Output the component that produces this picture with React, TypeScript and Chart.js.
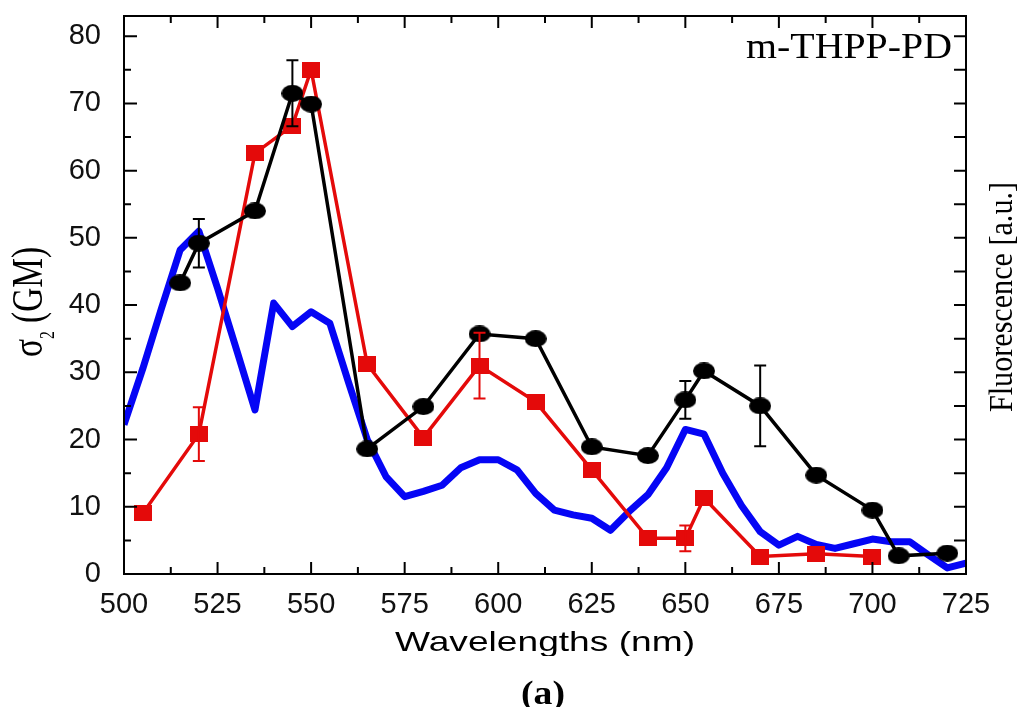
import React, { useEffect, useRef } from 'react';
import { Chart, registerables } from 'chart.js';
Chart.register(...registerables);

// ---- data ----
const blackX = [515, 520, 535, 545, 550, 565, 580, 595, 610, 625, 640, 650, 655, 670, 685, 700, 707, 720];
const blackY = [43.3, 49.2, 54.0, 71.5, 69.9, 18.6, 24.9, 35.7, 35.0, 18.9, 17.6, 25.9, 30.2, 25.0, 14.7, 9.5, 2.7, 3.1];
const blackErr = [null, 3.6, null, 4.9, null, null, null, null, null, null, null, 2.8, null, 6.0, null, null, null, null];

const redX = [505, 520, 535, 545, 550, 565, 580, 595, 610, 625, 640, 650, 655, 670, 685, 700];
const redY = [9.0, 20.8, 62.6, 66.7, 75.0, 31.2, 20.3, 31.0, 25.6, 15.5, 5.3, 5.3, 11.3, 2.6, 3.0, 2.6];
const redErr = [null, 4.0, null, null, null, null, null, 4.9, null, null, null, 1.9, null, null, null, null];

const blueX = [500, 505, 510, 515, 520, 525, 530, 535, 540, 545, 550, 555, 560, 565, 570, 575, 580, 585, 590, 595,
  600, 605, 610, 615, 620, 625, 630, 635, 640, 645, 650, 655, 660, 665, 670, 675, 680, 685, 690, 695,
  700, 705, 710, 715, 720, 725];
const blueY = [22.2, 30.5, 39.5, 48.2, 51.0, 42.5, 33.5, 24.4, 40.3, 36.8, 39.0, 37.3, 28.5, 20.0, 14.5, 11.5, 12.3, 13.2, 15.8, 17.0,
  17.0, 15.5, 12.0, 9.5, 8.8, 8.3, 6.5, 9.3, 11.8, 15.8, 21.5, 20.8, 15.0, 10.2, 6.3, 4.3, 5.6, 4.4, 3.8, 4.5,
  5.2, 4.8, 4.8, 2.8, 0.9, 1.6];

const xTickValues = [500, 525, 550, 575, 600, 625, 650, 675, 700, 725];
const yTickValues = [0, 10, 20, 30, 40, 50, 60, 70, 80];
const rightTickValues = [0, 5, 10, 15, 20, 25, 30, 35, 40, 45, 50, 55, 60, 65, 70, 75, 80];
const X_MIN = 500, X_MAX = 725, Y_MIN = 0, Y_MAX = 83;

const TITLE_X = 'Wavelengths (nm)';
const TITLE_Y_SYMBOL = 'σ';
const TITLE_Y_SUB = '2';
const TITLE_Y_REST = ' (GM)';
const TITLE_Y2 = 'Fluorescence [a.u.]';
const SAMPLE_LABEL = 'm-THPP-PD';
const CAPTION = '(a)';

const W = 1024, H = 707;
const RED = '#e40a0a';
const BLUE = '#0505f5';

function ellipseImg(w: number, h: number, color: string) {
  const c = document.createElement('canvas');
  c.width = w; c.height = h;
  const g = c.getContext('2d')!;
  g.fillStyle = color;
  g.beginPath();
  g.ellipse(w / 2, h / 2, w / 2, h / 2, 0, 0, Math.PI * 2);
  g.fill();
  return c;
}
function rectImg(w: number, h: number, color: string) {
  const c = document.createElement('canvas');
  c.width = w; c.height = h;
  const g = c.getContext('2d')!;
  g.fillStyle = color;
  g.fillRect(0, 0, w, h);
  return c;
}

function stretchText(ctx: CanvasRenderingContext2D, text: string, x: number, y: number, font: string,
  targetW: number, sy: number, rot: number) {
  ctx.save();
  ctx.font = font;
  const w = ctx.measureText(text).width;
  ctx.translate(x, y);
  ctx.rotate(rot);
  ctx.scale(targetW / w, sy);
  ctx.textAlign = 'center';
  ctx.textBaseline = 'alphabetic';
  ctx.fillStyle = '#000';
  ctx.fillText(text, 0, 0);
  ctx.restore();
}

const decoPlugin = {
  id: 'deco',
  afterDatasetsDraw(chart: any) {
    const ctx: CanvasRenderingContext2D = chart.ctx;
    const xs = chart.scales.x, ys = chart.scales.y;
    const drawErr = (px: number[], py: number[], pe: (number | null)[], color: string, cap: number) => {
      ctx.save();
      ctx.strokeStyle = color;
      ctx.lineWidth = 2;
      px.forEach((xv, i) => {
        const e = pe[i];
        if (e == null) return;
        const X = xs.getPixelForValue(xv);
        const y1 = ys.getPixelForValue(py[i] + e);
        const y2 = ys.getPixelForValue(py[i] - e);
        ctx.beginPath();
        ctx.moveTo(X, y1); ctx.lineTo(X, y2);
        ctx.moveTo(X - cap, y1); ctx.lineTo(X + cap, y1);
        ctx.moveTo(X - cap, y2); ctx.lineTo(X + cap, y2);
        ctx.stroke();
      });
      ctx.restore();
    };
    drawErr(redX, redY, redErr, RED, 6);
    drawErr(blackX, blackY, blackErr, '#000', 6);
  },
  afterDraw(chart: any) {
    const ctx: CanvasRenderingContext2D = chart.ctx;
    const a = chart.chartArea;
    const xs = chart.scales.x, ys = chart.scales.y;
    ctx.save();
    ctx.strokeStyle = '#000';
    ctx.lineWidth = 2;
    ctx.strokeRect(a.left, a.top, a.right - a.left, a.bottom - a.top);
    ctx.beginPath();
    const mids = (arr: number[]) => arr.slice(1).map((v, i) => (v + arr[i]) / 2);
    xTickValues.forEach(v => {
      const X = xs.getPixelForValue(v);
      ctx.moveTo(X, a.bottom); ctx.lineTo(X, a.bottom - 12);
      ctx.moveTo(X, a.top); ctx.lineTo(X, a.top + 12);
    });
    mids(xTickValues).forEach(v => {
      const X = xs.getPixelForValue(v);
      ctx.moveTo(X, a.bottom); ctx.lineTo(X, a.bottom - 7);
      ctx.moveTo(X, a.top); ctx.lineTo(X, a.top + 7);
    });
    yTickValues.forEach(v => {
      const Y = ys.getPixelForValue(v);
      ctx.moveTo(a.left, Y); ctx.lineTo(a.left + 13, Y);
    });
    mids(yTickValues).forEach(v => {
      const Y = ys.getPixelForValue(v);
      ctx.moveTo(a.left, Y); ctx.lineTo(a.left + 7, Y);
    });
    const y2 = chart.scales.y2;
    rightTickValues.forEach(v => {
      const Y = y2.getPixelForValue(v);
      ctx.moveTo(a.right, Y); ctx.lineTo(a.right - 12, Y);
    });
    ctx.stroke();
    ctx.restore();

    // sample label
    stretchText(ctx, SAMPLE_LABEL, 849, 58, '35px "Liberation Serif"', 206, 1, 0);
    // x title (clipped at the bottom like the reference)
    ctx.save();
    ctx.beginPath();
    ctx.rect(0, 0, W, 656);
    ctx.clip();
    stretchText(ctx, TITLE_X, 545, 651, '28px "Liberation Sans"', 300, 1, 0);
    ctx.restore();
    // caption
    stretchText(ctx, CAPTION, 543, 704, 'bold 34px "Liberation Serif"', 44, 1, 0);
    // right title
    stretchText(ctx, TITLE_Y2, 1012, 297, '28px "Liberation Serif"', 230, 1.17, -Math.PI / 2);
    // left title with subscript
    ctx.save();
    const mainFont = '30px "Liberation Serif"';
    const subFont = '14px "Liberation Serif"';
    ctx.font = mainFont;
    const w1 = ctx.measureText(TITLE_Y_SYMBOL).width;
    const w3 = ctx.measureText(TITLE_Y_REST).width;
    ctx.font = subFont;
    const w2 = ctx.measureText(TITLE_Y_SUB).width;
    const total = w1 + w2 + w3;
    const sx = 110 / total;
    ctx.translate(42, 302);
    ctx.rotate(-Math.PI / 2);
    ctx.scale(sx, 1.45);
    ctx.fillStyle = '#000';
    ctx.textBaseline = 'alphabetic';
    ctx.textAlign = 'left';
    let cx = -total / 2;
    ctx.font = mainFont;
    ctx.fillText(TITLE_Y_SYMBOL, cx, 0);
    cx += w1;
    ctx.font = subFont;
    ctx.fillText(TITLE_Y_SUB, cx, 8);
    cx += w2;
    ctx.font = mainFont;
    ctx.fillText(TITLE_Y_REST, cx, 0);
    ctx.restore();
  },
};

export default function App() {
  const ref = useRef<HTMLCanvasElement>(null);
  useEffect(() => {
    const blackMarker = ellipseImg(22, 17, '#000');
    const redMarker = rectImg(18, 16, RED);
    const tickFont = { family: '"Liberation Sans", Arial, sans-serif', size: 29, lineHeight: 1 };
    const noPad = (s: any) => { s.paddingTop = 0; s.paddingBottom = 0; s.paddingLeft = 0; s.paddingRight = 0; };
    const chart = new Chart(ref.current!, {
      type: 'line',
      data: {
        datasets: [
          {
            label: 'black',
            data: blackX.map((x, i) => ({ x, y: blackY[i] })),
            borderColor: '#000',
            borderWidth: 3.5,
            pointStyle: blackMarker as any,
            pointRadius: 10,
            tension: 0,
            yAxisID: 'y',
            order: 0,
          },
          {
            label: 'red',
            data: redX.map((x, i) => ({ x, y: redY[i] })),
            borderColor: RED,
            borderWidth: 3.5,
            pointStyle: redMarker as any,
            pointRadius: 9,
            tension: 0,
            yAxisID: 'y',
            order: 1,
          },
          {
            label: 'fluorescence',
            data: blueX.map((x, i) => ({ x, y: blueY[i] })),
            borderColor: BLUE,
            borderWidth: 7,
            pointRadius: 0,
            tension: 0,
            borderJoinStyle: 'round',
            yAxisID: 'y2',
            order: 2,
          },
        ],
      },
      options: {
        responsive: false,
        animation: false,
        events: [],
        layout: { padding: { top: 16, left: 0, right: 0, bottom: 0 } },
        plugins: { legend: { display: false }, tooltip: { enabled: false } },
        scales: {
          x: {
            type: 'linear',
            position: 'bottom',
            min: X_MIN,
            max: X_MAX,
            grid: { display: false },
            border: { display: false },
            afterBuildTicks: (s: any) => { s.ticks = xTickValues.map(v => ({ value: v })); },
            afterFit: (s: any) => { s.height = 133; noPad(s); },
            ticks: { font: tickFont, color: '#111', padding: 8, maxRotation: 0, autoSkip: false },
          },
          y: {
            type: 'linear',
            position: 'left',
            min: Y_MIN,
            max: Y_MAX,
            grid: { display: false },
            border: { display: false },
            afterBuildTicks: (s: any) => { s.ticks = yTickValues.map(v => ({ value: v })); },
            afterFit: (s: any) => { s.width = 124; noPad(s); },
            ticks: { font: tickFont, color: '#111', padding: 15, autoSkip: false },
          },
          y2: {
            type: 'linear',
            position: 'right',
            min: Y_MIN,
            max: Y_MAX,
            grid: { display: false },
            border: { display: false },
            afterFit: (s: any) => { s.width = 58; noPad(s); },
            ticks: { display: false },
          },
        },
      },
      plugins: [decoPlugin],
    } as any);
    return () => chart.destroy();
  }, []);
  return (
    <div style={{ position: 'absolute', left: 0, top: 0, width: W, height: H, background: '#fff' }}>
      <canvas ref={ref} width={W} height={H} style={{ display: 'block' }} />
    </div>
  );
}
